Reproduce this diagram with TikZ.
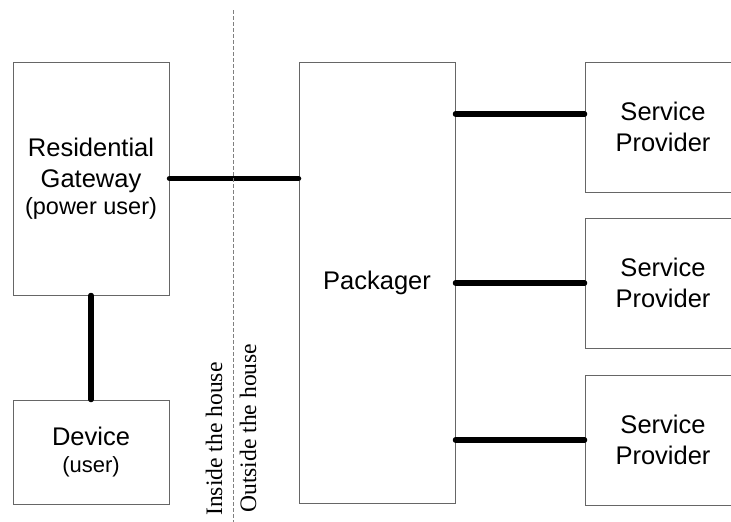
\documentclass[tikz,border=0pt]{standalone}
\usepackage{fontspec}
\setmainfont{Liberation Sans}
\newfontfamily\labelfont{Liberation Serif}
\usetikzlibrary{positioning}
\definecolor{boxgray}{HTML}{666666}
\definecolor{linegray}{HTML}{808080}

\tikzset{
	box/.style = {draw=boxgray, line width=1pt, minimum width=156pt, inner sep=0pt, align=center, font=\fontsize{25.5}{31}\selectfont},
	link/.style = {line width=5.5pt, line cap=round},
	side/.style = {rotate=90, anchor=base west, inner sep=0pt, font=\labelfont\fontsize{23.6}{24}\selectfont},
}

\begin{document}
\begin{tikzpicture}[x=1pt, y=-1pt]
	% Fix the size of the picture
	\clip (0,0) rectangle (731,522);

	% Draw residential gateway and the device below it
	\node[box, minimum height=233pt] (RG) at (91,178.5) {Residential\\Gateway\\[-4pt]{\fontsize{23.5}{24}\selectfont(power user)}};
	\node[box, minimum height=104pt, below=104pt of RG] (Dev) {Device\\[-4pt]{\fontsize{22}{24}\selectfont(user)}};

	% Draw packager
	\node[box, minimum height=441pt] (Pack) at (377,282.5) {Packager};

	% Draw service providers
	\node[box, minimum height=130pt] (SP1) at (663,127) {Service\\Provider};
	\node[box, minimum height=130pt, below=25pt of SP1] (SP2) {Service\\Provider};
	\node[box, minimum height=130pt, below=26pt of SP2] (SP3) {Service\\Provider};

	% Draw links between boxes
	\draw[link] (RG.east) -- (RG.east -| Pack.west);
	\draw[link] (RG.south) -- (Dev.north);
	\coordinate (L1) at ([yshift=13pt]SP1.west);
	\draw[link] (L1) -- (L1 -| Pack.east);
	\draw[link] (SP2.west) -- (Pack.east |- SP2.west);
	\draw[link] (SP3.west) -- (Pack.east |- SP3.west);

	% Draw house border with labels on both sides
	\coordinate (Top) at (233.3,10);
	\coordinate (Bottom) at (233.3,522);
	\draw[linegray, dash pattern=on 4pt off 2pt] (Top) -- (Bottom);
	\node[side] (In) at (222,516) {Inside the house};
	\node[side] (Out) at (256,513) {Outside the house};
\end{tikzpicture}
\end{document}
